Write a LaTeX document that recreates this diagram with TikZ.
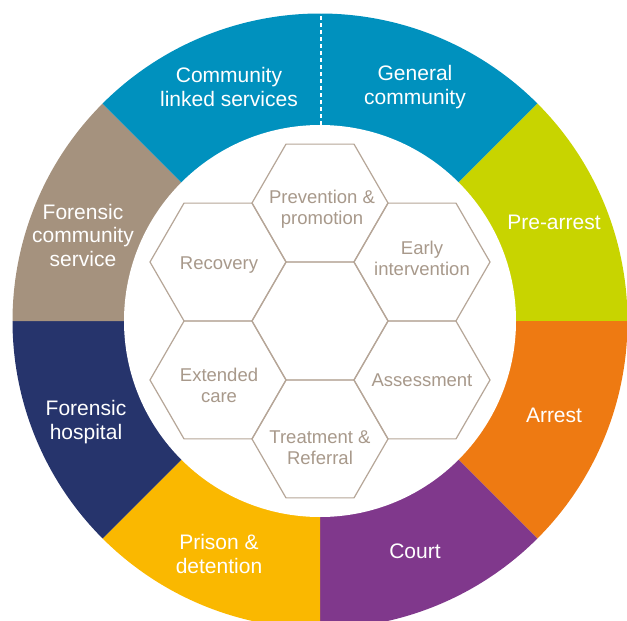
\documentclass[tikz,border=0pt]{standalone}
\usepackage{fontspec}
\setmainfont{Liberation Sans}
\usetikzlibrary{shapes.geometric}
\definecolor{cblue}{RGB}{0,145,190}
\definecolor{clime}{RGB}{200,212,0}
\definecolor{corange}{RGB}{238,122,18}
\definecolor{cpurple}{RGB}{128,56,140}
\definecolor{cyellow}{RGB}{250,184,0}
\definecolor{cnavy}{RGB}{38,52,108}
\definecolor{ctaupe}{RGB}{165,146,126}
\definecolor{hexline}{RGB}{182,166,152}
\definecolor{hextext}{RGB}{168,153,139}
\begin{document}
\begin{tikzpicture}[x=1pt,y=-1pt,
  seglabel/.style={text=white, font=\fontsize{21}{23.5}\selectfont, align=center, inner sep=0pt},
  hexcell/.style={regular polygon, regular polygon sides=6, minimum size=136pt, inner sep=0pt, draw=hexline, line width=1.2pt},
  hexlabel/.style={text=hextext, font=\fontsize{18.5}{21}\selectfont, align=center, inner sep=0pt}]
\useasboundingbox (0,0) rectangle (627,621);
\coordinate (C) at (320,321);
\def\Rout{307.5}
\def\Rin{196}
\foreach \a/\c in {-90/cblue,-45/clime,0/corange,45/cpurple,90/cyellow,135/cnavy,180/ctaupe,225/cblue}
  \fill[\c] (C) -- ++(\a:\Rout) arc[start angle=\a, delta angle=45, radius=\Rout] -- cycle;
\fill[white] (C) circle[radius=\Rin];
\coordinate (dtop) at (321,13);
\coordinate (dbot) at (321,125);
\draw[white, line width=1.6pt, dash pattern=on 4pt off 3pt] (dbot) -- (dtop);
% hexagons
\node[hexcell] (hc) at (320,321) {};
\node[hexcell] (ht) at (320,203) {};
\node[hexcell] (htr) at (422,262) {};
\node[hexcell] (hbr) at (422,380) {};
\node[hexcell] (hb) at (320,439) {};
\node[hexcell] (hbl) at (218,380) {};
\node[hexcell] (htl) at (218,262) {};
% hexagon labels
\node[hexlabel] (tprev) at (322,209) {Prevention \&\\promotion};
\node[hexlabel] (tearly) at (422,258) {Early\\intervention};
\node[hexlabel] (trec) at (219,265) {Recovery};
\node[hexlabel] (tcare) at (219,385) {Extended\\care};
\node[hexlabel] (tass) at (422,380) {Assessment};
\node[hexlabel] (ttreat) at (320,448) {Treatment \&\\Referral};
% segment labels
\node[seglabel] (lcls) at (229,87) {Community\\linked services};
\node[seglabel] (lgen) at (415,87) {General\\community};
\node[seglabel] (lpre) at (554,222) {Pre-arrest};
\node[seglabel] (larr) at (554,415) {Arrest};
\node[seglabel] (lcourt) at (415,551) {Court};
\node[seglabel] (lpris) at (219,554) {Prison \&\\detention};
\node[seglabel] (lfh) at (86,422) {Forensic\\hospital};
\node[seglabel] (lfcs) at (83,235) {Forensic\\community\\service};
\end{tikzpicture}
\end{document}
